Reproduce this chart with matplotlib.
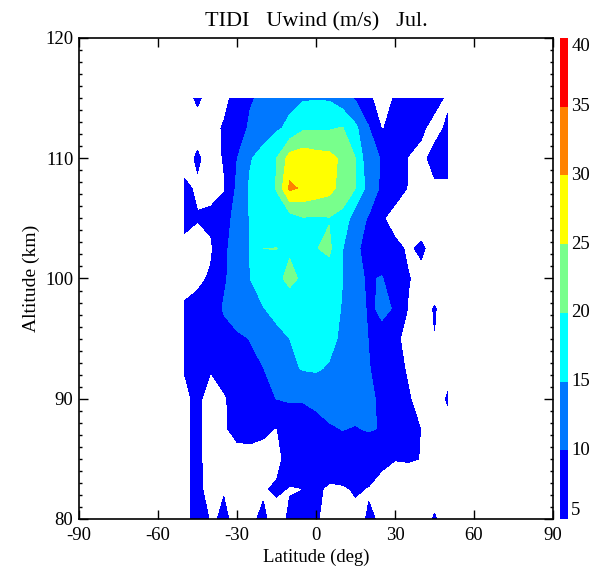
import numpy as np
import matplotlib
matplotlib.use('Agg')
import matplotlib.pyplot as plt
from matplotlib.ticker import MultipleLocator

plt.rcParams['font.family'] = ['Liberation Serif', 'DejaVu Serif']
plt.rcParams['axes.unicode_minus'] = False

# grid of the TIDI zonal wind, latitude -50..50 by 5, altitude 80..115 by 2.5
lats = np.arange(-50, 51, 5)
alts = np.arange(80, 115.1, 2.5)

u_080 = [3, 7, 4.7, 5.3, 4.5, 4.7, 5.3, 4.2, 5.3, 6, 5.3, 4, 3.5, 4, 5.3, 4.7, 3.5, 3.5, 4, 5.2, 4]
u_082 = [4, 6, 3.5, 4.9, 3, 3.5, 4.8, 5.3, 4.9, 4.98, 6, 4.15, 4.5, 5.4, 4.8, 3.5, 3.5, 3.5, 3.5, 4.2, 3.5]
u_085 = [4, 6, 3, 3, 3.5, 4, 4, 4.3, 6, 7.5, 8.5, 8.5, 8.5, 8, 7.5, 6, 5.1, 5.2, 4.95, 3.5, 3.5]
u_087 = [4, 6, 3, 4.5, 6.2, 6, 5.5, 4.9, 6.7, 6.7, 7.75, 9.5, 10.1, 9.8, 10.3, 9.8, 8, 6.5, 4.9, 3.5, 4]
u_090 = [4, 6, 3, 4.5, 6.7, 8, 8.8, 10.05, 10.5, 10.5, 11.5, 12, 12, 11.5, 11, 9, 7, 5.4, 3.5, 3.5, 5.3]
u_092 = [5.2, 6.5, 5.3, 7, 8.5, 9.3, 9.9, 12, 14, 15.3, 15.5, 14.5, 12.5, 11, 10.2, 8.5, 6.5, 4.5, 3, 3.5, 4]
u_095 = [6, 7, 8, 8.5, 9.3, 10.1, 12, 13.5, 15, 16.5, 17, 16.5, 14, 12, 9.9, 9.25, 6, 3.5, 3, 4.95, 3.5]
u_097 = [5.5, 6.5, 7.5, 10.4, 12, 13.5, 14.8, 16.5, 17.7, 18, 17.5, 17, 14.7, 12, 9.5, 10.5, 9.8, 4.8, 4, 5.15, 4]
u_100 = [3.5, 4, 5.6, 9.3, 12.3, 15, 17.5, 19.0, 21, 19.3, 18.5, 17.3, 15.1, 11, 9.5, 10.3, 7, 5.2, 4, 3.5, 3.5]
u_102 = [4, 3.3, 4.3, 9, 12.2, 15.1, 20.03, 20.03, 19.5, 19, 19.8, 21, 15.2, 11, 8, 7, 6, 4.5, 5.6, 3.5, 3.5]
u_105 = [6, 5.25, 6, 8, 11.7, 15.3, 17, 18, 17.5, 19.6, 19.5, 19.7, 18.5, 12, 9.6, 5.5, 3.3, 3, 3, 3.5, 3.5]
u_107 = [6, 4.3, 3.5, 4.5, 10.9, 15.7, 18, 20.2, 31, 29.3, 28, 26.7, 23, 20, 12.9, 9.1, 7, 4.8, 4, 4.5, 4.5]
u_110 = [3, 5.7, 3, 5.3, 9.9, 14.6, 17, 19.9, 27, 28, 27, 26.5, 24.1, 20, 11, 9.8, 7, 4.9, 4.2, 6, 6]
u_112 = [3, 3, 3.2, 5.5, 7.5, 10.8, 12.5, 14.3, 16, 19.2, 19.3, 19.5, 20.3, 16, 10.3, 4.8, 6, 6.5, 5.5, 4, 5.5]
u_115 = [3, 5.8, 3, 3.5, 7, 9.5, 11, 12.5, 13.8, 14.5, 14.6, 14.5, 12, 9.5, 5.8, 3, 5.4, 7, 7, 6, 4.5]

uwind = np.array([u_080, u_082, u_085, u_087, u_090, u_092, u_095, u_097,
                  u_100, u_102, u_105, u_107, u_110, u_112, u_115])

levels = [5, 10, 15, 20, 25, 30, 35, 40]
colors = ['#0000ff', '#0078ff', '#00ffff', '#78ff8c', '#ffff00', '#ff8200', '#ff0000']

xticks = [-90, -60, -30, 0, 30, 60, 90]
xticklabels = ['-90', '-60', '-30', '0', '30', '60', '90']
yticks = [80, 90, 100, 110, 120]

fig = plt.figure(figsize=(5.97, 5.72), dpi=100)
ax = fig.add_axes([0.1323, 0.0927, 0.794, 0.8409])

cs = ax.contourf(lats, alts, uwind, levels=levels, colors=colors)

ax.set_xlim(-90, 90)
ax.set_ylim(80, 120)
ax.set_xticks(xticks)
ax.set_xticklabels(xticklabels)
ax.set_yticks(yticks)
ax.yaxis.set_minor_locator(MultipleLocator(1))
ax.tick_params(which='both', direction='in', top=True, right=True, labelsize=13.5)
ax.tick_params(which='major', length=6.5, width=1)
ax.tick_params(which='minor', length=2.5, width=1)
ax.tick_params(axis='x', pad=6)
ax.tick_params(axis='y', pad=4)
for s in ax.spines.values():
    s.set_linewidth(1.2)

ax.set_xlabel('Latitude (deg)', fontsize=13.5, labelpad=3)
ax.set_ylabel('Altitude (km)', fontsize=14, labelpad=4)
ax.set_title('TIDI   Uwind (m/s)   Jul.', fontsize=16, pad=8)

cax = fig.add_axes([0.938, 0.0927, 0.0134, 0.8409])
cb = fig.colorbar(cs, cax=cax)
cb.outline.set_visible(False)
cb.set_ticks(levels)
cb.ax.set_yticklabels([])
cb.ax.tick_params(length=0)
for v in levels:
    va = 'center'
    if v == levels[0]:
        va = 'bottom'
    elif v == levels[-1]:
        va = 'top'
    cax.text(1.4, v, str(v), transform=cax.get_yaxis_transform(),
             ha='left', va=va, fontsize=13.5)

fig.savefig('out.png', dpi=100)
